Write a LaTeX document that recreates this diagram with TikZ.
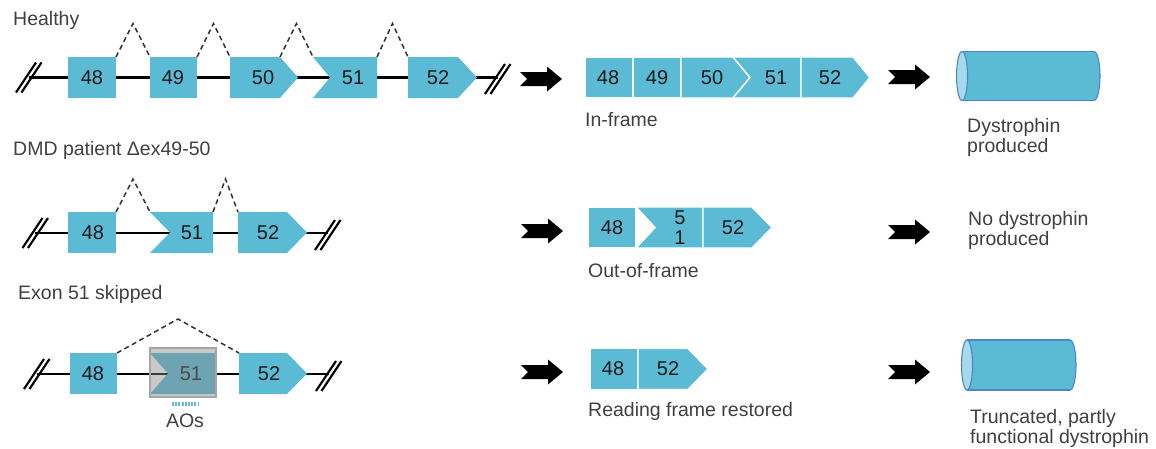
\documentclass[tikz,border=0pt]{standalone}
\usepackage{fontspec}
\setmainfont{Liberation Sans}
\usetikzlibrary{calc}

\definecolor{exonc}{RGB}{91,187,213}
\definecolor{txt}{RGB}{64,64,64}
\definecolor{numc}{RGB}{25,25,25}
\definecolor{cylline}{RGB}{74,134,200}
\definecolor{cylface}{RGB}{166,218,234}
\definecolor{aoc}{RGB}{95,190,220}
\definecolor{ovlfill}{RGB}{135,135,135}
\definecolor{ovlline}{RGB}{165,165,165}

% exon drawn as a plain box
\newcommand\ExonRect[6]{% name, x1, x2, yc, label x, text
  \fill[exonfill] (#2,#4-20.5) rectangle (#3,#4+20.5);
  \coordinate (#1-nw) at (#2,#4-20.5);
  \coordinate (#1-ne) at (#3,#4-20.5);
  \node[num] (#1) at (#5,#4) {#6};}
% exon with a pointed right end
\newcommand\ExonPoint[7]{% name, x1, flat end, tip, yc, label x, text
  \fill[exonfill] (#2,#5-20.5) -- (#3,#5-20.5) -- (#4,#5) -- (#3,#5+20.5) -- (#2,#5+20.5) -- cycle;
  \coordinate (#1-nw) at (#2,#5-20.5);
  \coordinate (#1-ne) at (#3,#5-20.5);
  \node[num] (#1) at (#6,#5) {#7};}
% exon with a notched left end
\newcommand\ExonNotch[7]{% name, x1, notch apex, x2, yc, label x, text
  \fill[exonfill] (#2,#5-20.5) -- (#4,#5-20.5) -- (#4,#5+20.5) -- (#2,#5+20.5) -- (#3,#5) -- cycle;
  \coordinate (#1-nw) at (#2,#5-20.5);
  \coordinate (#1-ne) at (#4,#5-20.5);
  \node[num] (#1) at (#6,#5) {#7};}
% splicing event between two exons
\newcommand\Splice[3]{%
  \draw[splice] (#1-ne) -- ($(#1-ne)!.5!(#2-nw)+(0,-#3)$) -- (#2-nw);}
% broken-gene mark
\newcommand\BreakMark[2]{%
  \draw[brk] (#1-12.5,#2+15) -- (#1+7.5,#2-15) (#1-7,#2+15) -- (#1+13,#2-15);}
% protein cylinder
\newcommand\Protein[4]{% left centre x, right centre x, yc, y radius
  \filldraw[fill=exonc,draw=cylline,line width=1.1pt] (#2,#3) ellipse[x radius=6pt,y radius=#4pt];
  \fill[exonc] (#1,#3-#4) rectangle (#2,#3+#4);
  \draw[cylline,line width=1.1pt] (#1,#3-#4) -- (#2,#3-#4) (#1,#3+#4) -- (#2,#3+#4);
  \filldraw[fill=cylface,draw=cylline,line width=1.1pt] (#1,#3) ellipse[x radius=5.5pt,y radius=#4pt];}

\tikzset{
  exonfill/.style={fill=exonc},
  num/.style={font=\fontsize{20}{20}\selectfont,text=numc,inner sep=0pt},
  lbl/.style={font=\fontsize{19.5}{20}\selectfont,text=txt,inner sep=0pt,align=left},
  splice/.style={draw=black!80,line width=1.5pt,dash pattern=on 5pt off 3.5pt},
  brk/.style={line width=2.2pt,black},
  backbone/.style={line width=2.6pt,black},
  fatarrow/.pic={\fill[black] (-21,-7) -- (6,-7) -- (6,-12.5) -- (21,0) -- (6,12.5) -- (6,7) -- (-21,7) -- (-14,0) -- cycle;}
}

\begin{document}
\begin{tikzpicture}[x=1pt,y=-1pt]
\useasboundingbox (0,0) rectangle (1156,448);

% ---------- row 1: healthy gene ----------
\node[lbl,anchor=base west] (t1) at (13,25) {Healthy};
\draw[backbone] (28.5,77.5) -- (497.5,77.5);
\BreakMark{28.5}{77.5}
\BreakMark{497.5}{79}
\ExonRect{h48}{68}{116}{77.5}{92}{48}
\ExonRect{h49}{150}{197}{77.5}{173}{49}
\ExonPoint{h50}{230}{280}{298}{77.5}{263}{50}
\ExonNotch{h51}{313}{330}{377}{77.5}{353}{51}
\ExonPoint{h52}{408}{458}{477}{77.5}{438}{52}
\Splice{h48}{h49}{33.5}
\Splice{h49}{h50}{33.5}
\Splice{h50}{h51}{33.5}
\Splice{h51}{h52}{33.5}

% ---------- row 2: deletion of exons 49-50 ----------
\node[lbl,anchor=base west] (t2) at (13,155) {DMD patient Δex49-50};
\draw[backbone] (35,233) -- (327.5,233);
\BreakMark{35}{233}
\BreakMark{327.5}{235}
\ExonRect{d48}{68}{116}{232.5}{93}{48}
\ExonNotch{d51}{150}{170}{213}{232.5}{192}{51}
\ExonPoint{d52}{238}{287}{307}{232.5}{268}{52}
\Splice{d48}{d51}{33}
\Splice{d51}{d52}{33}

% ---------- row 3: exon 51 skipped ----------
\node[lbl,anchor=base west] (t3) at (18,299) {Exon 51 skipped};
\draw[backbone] (36.5,374) -- (328.5,374);
\BreakMark{36.5}{374}
\BreakMark{328.5}{376}
\ExonRect{s48}{70}{117}{373.5}{93}{48}
\ExonNotch{s51}{150}{168}{216}{373.5}{191}{51}
\filldraw[fill=ovlfill,fill opacity=0.45,draw=ovlline,line width=1.6pt] (150,348) rectangle (216,397);
\ExonPoint{s52}{239}{287}{307}{373.5}{269}{52}
\Splice{s48}{s52}{34}
\draw[aoc,line width=4pt,dash pattern=on 2pt off 1.2pt] (172,404) -- (198,404);
\node[lbl,anchor=base] (ao) at (185,427) {AOs};

% ---------- transcripts ----------
\pic at (541,79) {fatarrow};
\pic at (542,231) {fatarrow};
\pic at (542,372) {fatarrow};

\begin{scope}[exonfill/.style={fill=exonc,draw=white,line width=1.4pt}]
  \ExonRect{m48}{585}{633}{77.5}{608}{48}
  \ExonRect{m49}{633}{681}{77.5}{657}{49}
  \ExonPoint{m50}{681}{733}{750}{77.5}{712}{50}
  \ExonNotch{m51}{733}{750}{801}{77.5}{776}{51}
  \ExonPoint{m52}{801}{853}{870}{77.5}{830}{52}

  \ExonRect{o48}{588}{636}{227.5}{612}{48}
  \ExonNotch{o51}{636}{655}{703}{227.5}{680}{}
  \node[num,align=center] (o51t) at (680,228) {5\\1};
  \ExonPoint{o52}{703}{752}{772}{227.5}{733}{52}

  \ExonRect{r48}{590}{638}{369}{613}{48}
  \ExonPoint{r52}{638}{688}{708}{369}{668}{52}
\end{scope}
\node[lbl,anchor=base west] (l1) at (585,126) {In-frame};
\node[lbl,anchor=base west] (l2) at (588,277) {Out-of-frame};
\node[lbl,anchor=base west] (l3) at (588,416) {Reading frame restored};

% ---------- proteins ----------
\pic at (909,77) {fatarrow};
\pic at (909,232) {fatarrow};
\pic at (909,372) {fatarrow};

\Protein{962}{1094}{76}{24.5}
\Protein{967}{1070}{365}{25}
\node[lbl,anchor=north west] (p1) at (967,118.3) {Dystrophin\\produced};
\node[lbl,anchor=north west] (p2) at (968,211.3) {No dystrophin\\produced};
\node[lbl,anchor=north west] (p3) at (970,409.3) {Truncated, partly\\functional dystrophin};
\end{tikzpicture}
\end{document}
